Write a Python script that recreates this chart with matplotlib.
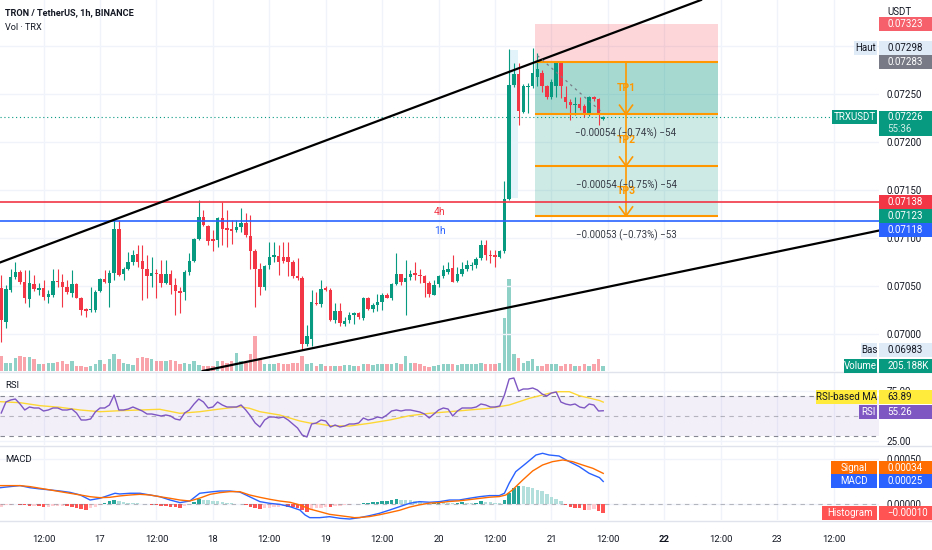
import numpy as np
import matplotlib
matplotlib.use("Agg")
import matplotlib.pyplot as plt
from matplotlib.patches import Rectangle
from matplotlib.lines import Line2D

plt.rcParams['font.family'] = ['Roboto', 'DejaVu Sans']

# ---- data: TRX/USDT 1h candles, x = hours counted from the 17th 00:00 ----
hours = np.arange(-21, 108)

opens = np.array([
    7048, 7013, 7046, 7059, 7065, 7054, 7036, 7052, 7046, 7048,
    7039, 7041, 7055, 7054, 7049, 7043, 7052, 7038, 7026, 7025,
    7025, 7045, 7057, 7053, 7064, 7109, 7063, 7068, 7075, 7083,
    7076, 7068, 7060, 7064, 7063, 7053, 7062, 7051, 7045, 7044,
    7065, 7076, 7099, 7122, 7112, 7099, 7098, 7121, 7110, 7109,
    7108, 7111, 7116, 7102, 7086, 7068, 7049, 7072, 7080, 7081,
    7080, 7080, 7075, 7060, 7058, 6990, 6995, 7032, 7031, 7048,
    7046, 7015, 7024, 7010, 7015, 7020, 7022, 7017, 7038, 7026,
    7030, 7033, 7041, 7037, 7052, 7062, 7054, 7059, 7064, 7061,
    7060, 7053, 7041, 7052, 7060, 7065, 7069, 7055, 7062, 7068,
    7071, 7072, 7079, 7093, 7082, 7082, 7080, 7086, 7141, 7259,
    7271, 7231, 7257, 7258, 7268, 7272, 7258, 7247, 7258, 7282,
    7247, 7242, 7239, 7240, 7238, 7230, 7247, 7245, 7224]) / 1e5
highs = np.array([
    7061, 7051, 7068, 7075, 7067, 7067, 7067, 7061, 7053, 7056,
    7046, 7068, 7068, 7063, 7056, 7067, 7053, 7039, 7027, 7049,
    7046, 7058, 7067, 7067, 7119, 7119, 7070, 7085, 7087, 7093,
    7093, 7082, 7080, 7068, 7077, 7077, 7067, 7058, 7049, 7067,
    7084, 7100, 7140, 7129, 7114, 7108, 7122, 7137, 7129, 7119,
    7119, 7131, 7126, 7124, 7089, 7074, 7072, 7096, 7096, 7093,
    7096, 7096, 7077, 7079, 7060, 7009, 7046, 7044, 7056, 7050,
    7048, 7032, 7032, 7018, 7023, 7023, 7023, 7039, 7039, 7032,
    7042, 7043, 7043, 7053, 7084, 7063, 7077, 7067, 7075, 7068,
    7061, 7055, 7056, 7061, 7072, 7075, 7082, 7070, 7075, 7077,
    7075, 7080, 7098, 7098, 7088, 7087, 7087, 7159, 7297, 7282,
    7282, 7260, 7261, 7298, 7293, 7275, 7259, 7266, 7284, 7284,
    7258, 7245, 7247, 7247, 7240, 7248, 7248, 7246, 7227]) / 1e5
lows = np.array([
    6992, 7006, 7044, 7057, 7052, 7032, 7028, 7045, 7041, 7035,
    7032, 7039, 7049, 7028, 7042, 7039, 7037, 7020, 7018, 7023,
    7023, 7044, 7053, 7028, 7056, 7060, 7056, 7067, 7072, 7070,
    7035, 7037, 7049, 7037, 7049, 7052, 7042, 7020, 7022, 7035,
    7061, 7075, 7098, 7112, 7093, 7086, 7091, 7093, 7091, 7094,
    7106, 7106, 7101, 7068, 7028, 7041, 7046, 7068, 7075, 7061,
    7074, 7060, 7058, 7056, 6983, 6987, 6987, 7030, 7028, 7045,
    7014, 7011, 7008, 7008, 7011, 7010, 7016, 7015, 7025, 7023,
    7024, 7025, 7037, 7035, 7051, 7051, 7020, 7056, 7056, 7053,
    7039, 7039, 7041, 7049, 7058, 7063, 7054, 7054, 7060, 7066,
    7067, 7069, 7077, 7077, 7074, 7070, 7079, 7084, 7140, 7257,
    7218, 7230, 7230, 7256, 7258, 7252, 7245, 7245, 7247, 7246,
    7235, 7223, 7228, 7233, 7226, 7227, 7243, 7218, 7223]) / 1e5
closes = np.array([
    7015, 7047, 7059, 7065, 7054, 7037, 7053, 7047, 7048, 7039,
    7042, 7055, 7054, 7049, 7044, 7052, 7038, 7025, 7024, 7026,
    7044, 7057, 7054, 7064, 7109, 7061, 7068, 7075, 7082, 7075,
    7068, 7060, 7064, 7063, 7053, 7062, 7051, 7045, 7043, 7065,
    7076, 7099, 7122, 7114, 7097, 7097, 7121, 7109, 7108, 7107,
    7111, 7116, 7103, 7086, 7068, 7049, 7071, 7080, 7082, 7075,
    7076, 7075, 7060, 7058, 6990, 6998, 7033, 7031, 7047, 7046,
    7015, 7024, 7011, 7014, 7020, 7022, 7018, 7038, 7026, 7030,
    7033, 7041, 7038, 7052, 7062, 7054, 7058, 7063, 7061, 7060,
    7053, 7042, 7051, 7060, 7067, 7068, 7054, 7062, 7068, 7072,
    7072, 7078, 7093, 7082, 7081, 7080, 7086, 7141, 7259, 7271,
    7232, 7258, 7258, 7272, 7276, 7258, 7247, 7263, 7282, 7258,
    7242, 7239, 7240, 7235, 7230, 7247, 7245, 7228, 7226]) / 1e5
volume_k = np.array([
    615, 330, 330, 535, 615, 575, 575, 490, 285, 285,
    330, 330, 370, 410, 285, 410, 205, 205, 165, 205,
    285, 450, 285, 490, 700, 490, 330, 285, 245, 535,
    575, 535, 490, 410, 410, 410, 450, 410, 285, 330,
    285, 410, 245, 205, 205, 205, 410, 410, 330, 410,
    740, 410, 330, 700, 1435, 490, 285, 285, 285, 330,
    285, 285, 330, 330, 615, 285, 330, 205, 285, 205,
    205, 205, 205, 245, 245, 205, 205, 285, 285, 245,
    285, 285, 285, 285, 330, 285, 615, 330, 330, 285,
    205, 165, 205, 245, 285, 285, 285, 245, 285, 285,
    285, 285, 330, 285, 285, 285, 330, 2175, 3770, 700,
    535, 330, 410, 490, 205, 205, 285, 285, 285, 205,
    285, 285, 205, 205, 285, 205, 285, 490, 205.188])

rsi = np.array([
    53, 64, 66, 67, 62, 56, 59, 58, 58, 55,
    56, 58, 58, 56, 56, 57, 53, 46, 46, 47,
    54, 58, 58, 61, 71, 56, 56, 57, 59, 57,
    55, 52, 52, 51, 50, 51, 50, 47, 46, 53,
    56, 62, 67, 64, 58, 59, 64, 61, 59, 59,
    59, 61, 56, 50, 43, 39, 46, 49, 49, 48,
    49, 46, 42, 38, 31, 29, 42, 43, 46, 45,
    39, 41, 39, 40, 42, 42, 43, 48, 46, 47,
    49, 48, 51, 55, 56, 55, 56, 56, 55, 54,
    52, 48, 52, 56, 58, 57, 50, 55, 58, 58,
    58, 59, 62, 61, 59, 59, 60, 71, 87, 88,
    75, 77, 77, 78, 76, 72, 70, 73, 74, 64,
    62, 61, 62, 59, 58, 62, 61, 55, 55.26])
rsi_ma_h = [-21.2, -17, -12.7, -8.5, -4.2, 0, 4.2, 8.5, 12.7, 17, 21.2, 25.5, 29.7,
            31.8, 34, 38.2, 42.5, 44.6, 46.7, 48.8, 53.1, 57.3, 61.6, 65.8, 70.1,
            74.3, 78.5, 82.8, 87, 91.3, 95.5, 97.6, 99.8, 101.9, 104, 106.2, 107]
rsi_ma = [64.3, 63.3, 60.3, 58.7, 56, 54.3, 55.3, 56, 56.7, 52.7, 54.3, 57, 59.3,
          57.7, 54.3, 51, 45, 43, 42, 40.3, 40, 42.7, 46, 50.3, 52.7,
          54.3, 56, 57.7, 61, 67.7, 72.7, 74.3, 74.3, 70.3, 68, 65.5, 63.89]

macd_h = [-21.2, -19.1, -17, -14.9, -12.7, -10.6, -8.5, -6.4, -4.2, -2.1, 0, 2.1, 3.2,
          4.2, 6.4, 8.5, 10.6, 12.7, 14.9, 17, 19.1, 21.2, 23.4, 25.5, 27.6, 29.7,
          31.8, 34, 36.1, 38.2, 40.4, 42.5, 43.6, 44.6, 46.7, 48.8, 51, 53.1, 55.2,
          57.3, 59.4, 61.6, 63.7, 65.8, 67.9, 70.1, 72.2, 74.3, 76.4, 78.5, 80.7,
          82.8, 84.9, 86, 87, 88.4, 90.6, 92.7, 94.1, 95.5, 97.6, 99.8, 101.9, 104,
          106.2, 107]
macd = np.array([18.1, 19.3, 20.4, 18.1, 16.7, 15.6, 14.4, 12.9, 10, 4.4, 6.3, 10, 11.9,
                 11.1, 11.9, 11.9, 10, 8.1, 4.4, 1.5, 3.3, 11.9, 13.3, 14.4, 14.4, 13.3,
                 8.1, 2.6, 0.7, -0.4, -3, -6.7, -12.2, -15.2, -15.2, -14.1, -15.9, -16.7, -15.2,
                 -13, -10.4, -6.7, -3, 0.7, 2.6, 1.9, 2.6, 4.4, 4.4, 6.3, 8.1,
                 9.3, 9.3, 11.9, 23, 35.9, 45.2, 54.4, 56.3, 54.4, 53.3, 47, 41.5, 34.1,
                 29.3, 25]) / 1e5
signal_h = [-21.2, -17, -14.9, -12.7, -10.6, -8.5, -6.4, -4.2, -2.1, 0, 2.1, 4.2, 6.4,
            8.5, 10.6, 12.7, 14.9, 17, 19.1, 21.2, 23.4, 25.5, 27.6, 29.7, 31.8, 34,
            36.1, 38.2, 40.4, 42.5, 44.6, 46.7, 48.8, 51, 53.1, 54.1, 55.2, 57.3, 59.4,
            61.6, 63.7, 65.8, 67.9, 70.1, 72.2, 74.3, 76.4, 78.5, 80.7, 82.8, 84.9,
            86.3, 87.7, 89.9, 92, 94.1, 96.2, 98.4, 100.5, 102.6, 104.8, 107]
signal = np.array([20.4, 20.4, 19.3, 17.4, 15.6, 13.7, 11.9, 10, 8.1, 7, 7.4, 8.9, 10,
                   10.7, 10, 8.1, 6.3, 4.4, 3.3, 6.5, 10.7, 12.6, 13.7, 13.7, 10, 7.4,
                   5.2, 3.3, 1.9, -1.1, -5.6, -8.5, -11.5, -13, -14.4, -15.2, -15, -14, -12,
                   -9.5, -7, -3.5, -1, 1, 1.5, 2.8, 3.5, 4.8, 6.2, 7.5, 8.2,
                   10, 15.6, 26.7, 36.7, 43.3, 47, 48.9, 47, 43.3, 39.6, 34]) / 1e5
hist = np.array([
    -3, -1.5, -1, -0.5, -1, -1.5, -2, -2, -2.5, -3,
    -3, -2.5, -2, -2, -2.5, -3, -4, -6, -6.5, -5,
    -3, -1, 1.5, 3, 4, 3, 2, 1.5, 1, 0.8,
    0.5, -0.5, -1, -1.5, -2, -2.5, -3, -3.5, -4, -2,
    -0.5, 2, 5, 4.5, 4, 3.5, 3, 2, 1.5, 1,
    0.5, 0.3, -1, -3, -5, -6, -5, -4, -3.5, -3,
    -2.5, -3, -3.5, -4.5, -7, -9, -7, -5, -4, -3.5,
    -3.8, -2.5, -2, -1.5, -1, -0.5, 0.5, 1, 1.5, 2,
    2.5, 3, 3.5, 4.5, 5, 4.5, 4.3, 4, 3, 2,
    1, 0.5, 1, 2.5, 2, 1.5, 1, 1.5, 1.8, 1.5,
    1.2, 1.5, 3, 2.5, 2, 1.5, 1.2, 4, 12, 18,
    20.5, 20, 19, 18, 16, 14, 11, 8, 6, 3,
    -1.5, -3, -4, -5, -7, -6.8, -6, -8, -10]) / 1e5

day_ticks = np.arange(-12, 157, 12)
day_labels = ['12:00', '17', '12:00', '18', '12:00', '19', '12:00', '20',
              '12:00', '21', '12:00', '22', '12:00', '23', '12:00']

level_4h, level_1h = 0.07138, 0.07118
last_price, countdown = 0.07226, '55:36'
high_price, low_price = 0.07298, 0.06983
pos_left, pos_right = 92.4, 131.3
entry, stop = 0.07283, 0.07323
targets = [0.07229, 0.07175, 0.07123]
target_txt = ['\u22120.00054 (\u22120.74%) \u221254',
              '\u22120.00054 (\u22120.75%) \u221254',
              '\u22120.00053 (\u22120.73%) \u221253']
upper_line = [(3, 0.07119), (92.4, 0.07283)]
lower_line = [(43, 0.06983), (89.2, 0.07030)]
dash_line = [(93, 0.07290), (106.5, 0.07232)]

GREEN, RED, BLUE, ORANGE = '#089981', '#f23645', '#2962ff', '#ff9800'
GRID, TXT, SEP = '#f0f3fa', '#131722', '#e0e3eb'

W, H = 932, 550
PX_H = 4.703        # pixels per hour
PX_P = 96000.0      # pixels per price unit
FS = 7              # label font size
fig = plt.figure(figsize=(W / 100, H / 100), dpi=100)
fig.patch.set_facecolor('white')


def pane(top, bottom, right=879):
    return fig.add_axes([0, 1 - bottom / H, right / W, (bottom - top) / H])


ax_vol = pane(0, 371)
ax = pane(0, 371)
ax_rsi = pane(372, 445)
ax_macd = pane(446, 520)
ax.patch.set_visible(False)

for a in (ax_vol, ax, ax_rsi, ax_macd):
    a.set_xlim(-100 / PX_H, 779 / PX_H)
    for s in a.spines.values():
        s.set_visible(False)
    a.set_xticks(day_ticks)
    a.tick_params(length=0, labelbottom=False)
    a.set_axisbelow(True)
for a in (ax_vol, ax_rsi, ax_macd):
    a.grid(axis='x', color=GRID, lw=1)

# ---- main pane ----
ax.set_ylim(0.0725 - 277 / PX_P, 0.0725 + 94 / PX_P)
ax_vol.set_ylim(0, 371 * 41)
ax_vol.set_yticks([])

up = closes >= opens
ccol = np.where(up, GREEN, RED)
ax_vol.bar(hours, volume_k, width=0.74, color=ccol, alpha=0.45, lw=0)

pticks = np.arange(0.0700, 0.07301, 0.0005)
ax.yaxis.tick_right()
ax.set_yticks(pticks)
ax.set_yticklabels([f'{v:.5f}' for v in pticks])
ax.tick_params(axis='y', labelsize=FS, colors=TXT, pad=5.5)
ax.grid(axis='y', color=GRID, lw=1)

# position tool
pw = pos_right - pos_left
ax.add_patch(Rectangle((pos_left, entry), pw, stop - entry, fc=RED, alpha=0.2, lw=0, zorder=1))
ax.add_patch(Rectangle((pos_left, targets[0]), pw, entry - targets[0], fc=GREEN, alpha=0.36, lw=0, zorder=1))
ax.add_patch(Rectangle((pos_left, targets[-1]), pw, targets[0] - targets[-1], fc=GREEN, alpha=0.2, lw=0, zorder=1))
ax.add_patch(Rectangle((87.15, 0.07142), 1.7, 0.00154, fc='#e3f3fa', lw=0, zorder=1.5))

ax.axhline(last_price, color=GREEN, lw=0.8, ls=(0, (1, 2.5)), zorder=2)
ax.vlines(hours, lows, highs, colors=ccol, lw=0.8, zorder=3)
ax.bar(hours, np.maximum(np.abs(closes - opens), 0.6e-5), bottom=np.minimum(opens, closes),
       width=0.74, color=ccol, lw=0, zorder=4)

ax.hlines([entry] + targets, pos_left, pos_right, colors=ORANGE, lw=1.5, zorder=5)
xc = (pos_left + pos_right) / 2
ax.vlines(xc, targets[-1], entry, colors=ORANGE, lw=1.2, zorder=5)
dxh, dyp = 6.5 / PX_H, 9 / PX_P
prev = entry
for i, tp in enumerate(targets):
    ax.plot([xc - dxh, xc, xc + dxh], [tp + dyp, tp, tp + dyp], color=ORANGE, lw=1.2, zorder=5)
    ax.text(xc, (prev + tp) / 2, f'TP{i + 1}', color=ORANGE, fontsize=7.5, weight='bold',
            ha='center', va='center', zorder=6)
    ax.annotate(target_txt[i], (xc, tp), xytext=(0, -19), textcoords='offset pixels',
                ha='center', va='center', fontsize=7, color='#363a45', zorder=7)
    prev = tp

ax.axhline(level_4h, color=RED, lw=1.2, zorder=5)
ax.axhline(level_1h, color=BLUE, lw=1.2, zorder=5)
ax.annotate('4h', (72.3, level_4h), xytext=(0, -10), textcoords='offset pixels',
            ha='center', va='center', color=RED, fontsize=7.5)
ax.annotate('1h', (72.3, level_1h), xytext=(0, -10), textcoords='offset pixels',
            ha='center', va='center', color=BLUE, fontsize=7.5)

ax.axline(*upper_line, color='black', lw=1.6, zorder=6)
ax.axline(*lower_line, color='black', lw=1.6, zorder=6)
ax.plot(*zip(*dash_line), color='#787b86', lw=0.9, ls=(0, (2, 3)), zorder=6)

# ---- RSI pane ----
ax_rsi.set_ylim(21, 94)
ax_rsi.axhspan(30, 70, color='#7e57c2', alpha=0.09, lw=0)
for lv, al in ((70, 0.9), (50, 0.5), (30, 0.9)):
    ax_rsi.axhline(lv, color='#787b86', lw=0.8, ls=(0, (4, 4)), alpha=al)
ax_rsi.plot(rsi_ma_h, rsi_ma, color='#fdd835', lw=1)
ax_rsi.plot(hours, rsi, color='#7e57c2', lw=1)
ax_rsi.yaxis.tick_right()
ax_rsi.set_yticks([25, 75])
ax_rsi.set_yticklabels(['25.00', '75.00'])
ax_rsi.tick_params(axis='y', labelsize=FS, colors=TXT, pad=5.5)
ax_rsi.grid(axis='y', color=GRID, lw=1)

# ---- MACD pane ----
ax_macd.set_ylim(-0.000178, 0.000644)
ax_macd.axhline(0, color='#787b86', lw=0.8, ls=(0, (4, 4)), alpha=0.5)
hprev = np.r_[hist[0], hist[:-1]]
hcol = np.where(hist >= 0, np.where(hist >= hprev, '#26a69a', '#b2dfdb'),
                np.where(hist < hprev, '#ff5252', '#ffcdd2'))
ax_macd.bar(hours, hist, width=0.74, color=hcol, lw=0)
ax_macd.plot(macd_h, macd, color=BLUE, lw=1)
ax_macd.plot(signal_h, signal, color='#ff6d00', lw=1)
ax_macd.yaxis.tick_right()
ax_macd.set_yticks([0, 0.0005])
ax_macd.set_yticklabels(['0.00000', '0.00050'])
ax_macd.tick_params(axis='y', labelsize=FS, colors=TXT, pad=5.5)
ax_macd.grid(axis='y', color=GRID, lw=1)
ax_macd.tick_params(axis='x', labelbottom=True, labelsize=6.8, colors=TXT, pad=11)
ax_macd.set_xticklabels(day_labels)
ax_macd.get_xticklabels()[11].set_weight('bold')

# ---- separators / titles ----
for yy in (371.5, 445.5, 520.5):
    fig.add_artist(Line2D([0, 1], [1 - yy / H] * 2, transform=fig.transFigure, color=SEP, lw=1))
fig.text(5 / W, 1 - 13 / H, 'TRON / TetherUS, 1h, BINANCE', fontsize=6.6, weight='bold',
         color=TXT, va='center')
fig.text(5 / W, 1 - 28 / H, 'Vol \u00b7 TRX', fontsize=6.6, color=TXT, va='center')
fig.text(5 / W, 1 - 386 / H, 'RSI', fontsize=6.8, color=TXT, va='center')
fig.text(5 / W, 1 - 460 / H, 'MACD', fontsize=6.8, color=TXT, va='center')
fig.text(887 / W, 1 - 12 / H, 'USDT', fontsize=FS, color=TXT, va='center')


def ypx(a, v):
    return H - a.transData.transform((0, v))[1]


def tag(y, text, fc, tc='white', x0=879, x1=932, h=14):
    fig.add_artist(Rectangle((x0 / W, 1 - (y + h / 2) / H), (x1 - x0) / W, h / H,
                             transform=fig.transFigure, fc=fc, ec='none', zorder=5))
    if x0 >= 879:
        fig.text((x0 + 8) / W, 1 - y / H, text, ha='left', va='center', fontsize=FS,
                 color=tc, zorder=6)
    else:
        fig.text((x0 + x1) / 2 / W, 1 - y / H, text, ha='center', va='center', fontsize=FS,
                 color=tc, zorder=6)


LIGHT = '#e0ebf8'
tag(ypx(ax, stop), f'{stop:.5f}', '#f5606b')
y = ypx(ax, high_price)
tag(y, 'Haut', LIGHT, TXT, 854, 877)
tag(y, f'{high_price:.5f}', LIGHT, TXT)
tag(ypx(ax, entry), f'{entry:.5f}', '#787b86')
y = ypx(ax, last_price)
tag(y, 'TRXUSDT', GREEN, x0=832, x1=877)
fig.add_artist(Rectangle((879 / W, 1 - (y + 19) / H), 53 / W, 25 / H,
                         transform=fig.transFigure, fc=GREEN, ec='none', zorder=5))
fig.text(887 / W, 1 - y / H, f'{last_price:.5f}', fontsize=FS, color='white', va='center', zorder=6)
fig.text(887 / W, 1 - (y + 12) / H, countdown, fontsize=FS, color='#cfeee8', va='center', zorder=6)
tag(ypx(ax, level_4h), f'{level_4h:.5f}', RED)
tag(ypx(ax, targets[-1]), f'{targets[-1]:.5f}', GREEN)
tag(ypx(ax, level_1h) + 9.5, f'{level_1h:.5f}', BLUE)
y = ypx(ax, low_price)
tag(y, 'Bas', LIGHT, TXT, 861, 877)
tag(y, f'{low_price:.5f}', LIGHT, TXT)
y = ypx(ax_vol, volume_k[-1])
tag(y, 'Volume', GREEN, x0=844, x1=877)
tag(y, f'{volume_k[-1]:.3f}K', GREEN)

y = ypx(ax_rsi, rsi_ma[-1]) - 5
tag(y, 'RSI-based MA', '#ffeb3b', TXT, 816, 877)
tag(y, f'{rsi_ma[-1]:.2f}', '#ffeb3b', TXT)
y = ypx(ax_rsi, rsi[-1]) + 1.5
tag(y, 'RSI', '#7e57c2', x0=859, x1=877)
tag(y, f'{rsi[-1]:.2f}', '#7e57c2')

y = ypx(ax_macd, signal[-1]) - 5
tag(y, 'Signal', '#ff6d00', x0=831, x1=877)
tag(y, f'{signal[-1]:.5f}', '#ff6d00')
y = ypx(ax_macd, macd[-1])
tag(y, 'MACD', BLUE, x0=831, x1=877)
tag(y, f'{macd[-1]:.5f}', BLUE)
y = ypx(ax_macd, hist[-1])
tag(y, 'Histogram', '#ff5252', x0=822, x1=877)
tag(y, f'{hist[-1]:.5f}'.replace('-', '\u2212'), '#ff5252')

fig.savefig('out.png', dpi=100)
